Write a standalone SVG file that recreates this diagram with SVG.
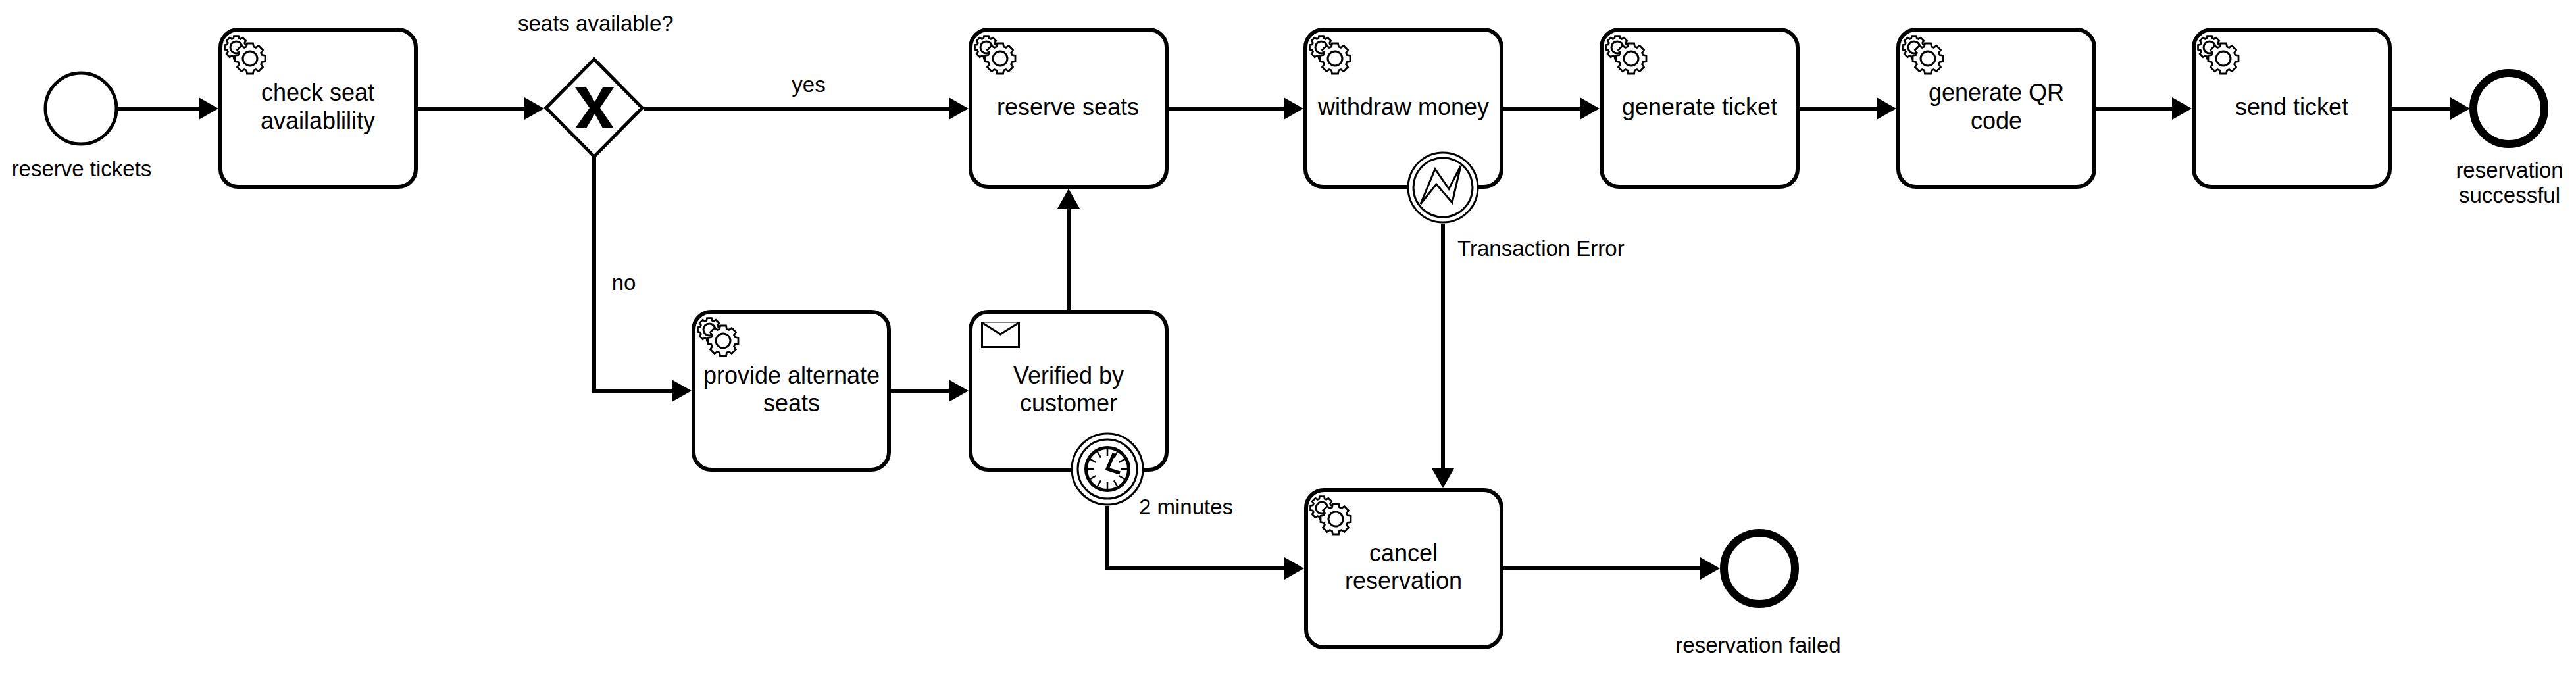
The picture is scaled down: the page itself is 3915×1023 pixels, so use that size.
<svg xmlns="http://www.w3.org/2000/svg" xmlns:xlink="http://www.w3.org/1999/xlink" width="3915" height="1023" viewBox="0 0 3915 1023">
<style>
text{font-family:"Liberation Sans",Arial,sans-serif;fill:#000}
.t{font-size:36px;text-anchor:middle}
.l{font-size:33px}
.m{text-anchor:middle}
.task{fill:#fff;stroke:#000;stroke-width:6}
.flow{fill:none;stroke:#000;stroke-width:6;marker-end:url(#arrow)}
.thin{fill:#fff;stroke:#000;stroke-width:3}
.ev{fill:#fff;stroke:#000;stroke-width:5}
.end{fill:#fff;stroke:#000;stroke-width:12}
.tick{stroke:#000;stroke-width:2.5;fill:none}
.hand{stroke:#000;stroke-width:5;fill:none}
</style>
<defs>
<marker id="arrow" markerUnits="userSpaceOnUse" markerWidth="30" markerHeight="34" refX="15" refY="17" orient="auto"><path d="M0,0L30,17L0,34Z" fill="#000"/></marker>
<polygon id="gearshape" points="18,-5.5 23,-4.5 23,4.5 18,5.5 16.6,8.84 19.44,13.08 13.08,19.44 8.84,16.6 5.5,18 4.5,23 -4.5,23 -5.5,18 -8.84,16.6 -13.08,19.44 -19.44,13.08 -16.6,8.84 -18,5.5 -23,4.5 -23,-4.5 -18,-5.5 -16.6,-8.84 -19.44,-13.08 -13.08,-19.44 -8.84,-16.6 -5.5,-18 -4.5,-23 4.5,-23 5.5,-18 8.84,-16.6 13.08,-19.44 19.44,-13.08 16.6,-8.84"/>
<g id="gears">
<use xlink:href="#gearshape" href="#gearshape" transform="translate(27,30) scale(.76)" fill="#fff" stroke="#000" stroke-width="3.6"/>
<circle cx="27" cy="30" r="9" fill="none" stroke="#000" stroke-width="3"/>
<use xlink:href="#gearshape" href="#gearshape" transform="translate(48,47)" fill="#fff" stroke="#000" stroke-width="2.8"/>
<circle cx="48" cy="47" r="11" fill="#fff" stroke="#000" stroke-width="3"/>
</g>
</defs>
<g id="connectors">
<path class="flow" d="M178,165H317"/>
<path class="flow" d="M635,165H812"/>
<path class="flow" d="M979,165H1457"/>
<path class="flow" d="M1776,165H1966"/>
<path class="flow" d="M2285,165H2416"/>
<path class="flow" d="M2735,165H2867"/>
<path class="flow" d="M3186,165H3316"/>
<path class="flow" d="M3635,165H3739"/>
<path class="flow" d="M903,238V594H1036"/>
<path class="flow" d="M1354,594H1457"/>
<path class="flow" d="M1624,471V302"/>
<path class="flow" d="M2193,340V727"/>
<path class="flow" d="M1683,769V864H1967"/>
<path class="flow" d="M2285,864H2599"/>
</g>
<g id="start"><circle class="ev" cx="123" cy="165" r="54"/><text class="l m" x="124" y="268">reserve tickets</text></g>
<g id="check"><rect class="task" x="335" y="45" width="297" height="239" rx="27"/><use xlink:href="#gears" href="#gears" x="332" y="42"/><text class="t" x="483" y="153">check seat</text><text class="t" x="483" y="196">availablility</text></g>
<g id="gateway"><polygon class="ev" points="903,90 976,164 903,238 830,164"/><polygon points="874,133 891,133 904,155 916,133 933,133 912,164 933,195 916,195 904,173 891,195 874,195 896,164"/><text class="l" x="787" y="47">seats available?</text></g>
<g id="yes"><text class="l m" x="1229" y="140">yes</text></g>
<g id="no"><text class="l m" x="948" y="441">no</text></g>
<g id="reserve"><rect class="task" x="1475" y="45" width="298" height="239" rx="27"/><use xlink:href="#gears" href="#gears" x="1472" y="42"/><text class="t" x="1623" y="175">reserve seats</text></g>
<g id="provide"><rect class="task" x="1054" y="474" width="297" height="240" rx="27"/><use xlink:href="#gears" href="#gears" x="1051" y="471"/><text class="t" x="1203" y="583">provide alternate</text><text class="t" x="1203" y="625">seats</text></g>
<g id="verified"><rect class="task" x="1475" y="474" width="298" height="240" rx="27"/><rect class="thin" x="1492.5" y="490.5" width="56" height="37"/><path class="thin" d="M1492.5,490.5L1520.5,508L1548.5,490.5" fill="none"/><text class="t" x="1624" y="583">Verified by</text><text class="t" x="1624" y="625">customer</text></g>
<g id="timer"><circle class="thin" cx="1683" cy="713" r="54"/><circle class="thin" cx="1683" cy="713" r="45"/><circle cx="1683" cy="713" r="32.5" fill="#fff" stroke="#000" stroke-width="5"/><path class="tick" d="M1683,683v10M1683,733v10M1653,713h10M1703,713h10M1698,687l-5,8.7M1668,739l5,-8.7M1657,698l8.7,5M1709,728l-8.7,-5M1668,687l5,8.7M1698,739l-5,-8.7M1657,728l8.7,-5M1709,698l-8.7,5"/><path class="hand" d="M1693,689L1683,713L1702,719"/><text class="l" x="1731" y="782">2 minutes</text></g>
<g id="withdraw"><rect class="task" x="1984" y="45" width="298" height="239" rx="27"/><use xlink:href="#gears" href="#gears" x="1981" y="42"/><text class="t" x="2133" y="175">withdraw money</text></g>
<g id="error"><circle class="thin" cx="2193" cy="285" r="53"/><circle class="thin" cx="2193" cy="285" r="45"/><polygon class="thin" points="2159,310 2181,257 2202,287 2220,252 2207,308 2183,280"/><text class="l" x="2215" y="389">Transaction Error</text></g>
<g id="ticket"><rect class="task" x="2434" y="45" width="298" height="239" rx="27"/><use xlink:href="#gears" href="#gears" x="2431" y="42"/><text class="t" x="2583" y="175">generate ticket</text></g>
<g id="qr"><rect class="task" x="2885" y="45" width="298" height="239" rx="27"/><use xlink:href="#gears" href="#gears" x="2882" y="42"/><text class="t" x="3034" y="153">generate QR</text><text class="t" x="3034" y="196">code</text></g>
<g id="send"><rect class="task" x="3334" y="45" width="298" height="239" rx="27"/><use xlink:href="#gears" href="#gears" x="3331" y="42"/><text class="t" x="3483" y="175">send ticket</text></g>
<g id="success"><circle class="end" cx="3813" cy="165" r="54"/><text class="l m" x="3814" y="270">reservation</text><text class="l m" x="3814" y="308">successful</text></g>
<g id="cancel"><rect class="task" x="1985" y="745" width="297" height="239" rx="27"/><use xlink:href="#gears" href="#gears" x="1982" y="742"/><text class="t" x="2133" y="853">cancel</text><text class="t" x="2133" y="895">reservation</text></g>
<g id="failed"><circle class="end" cx="2674" cy="864" r="54"/><text class="l m" x="2672" y="992">reservation failed</text></g>
</svg>
